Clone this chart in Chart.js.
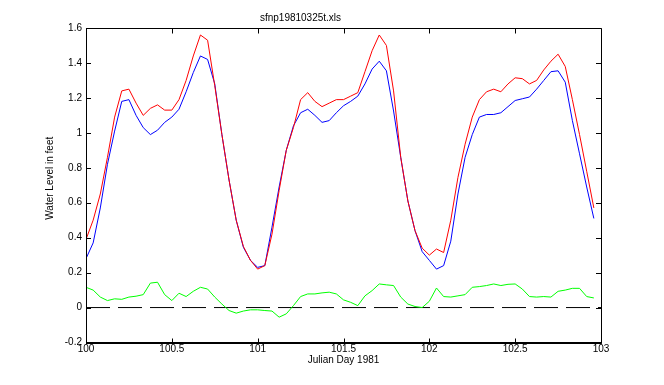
<!DOCTYPE html>
<html>
<head>
<meta charset="utf-8">
<script src="https://cdn.jsdelivr.net/npm/chart.js@4"></script>
<style>
  body { margin: 0; background: #fff; }
  canvas { display: block; }
</style>
</head>
<body>
<canvas id="myLevels" width="664" height="385"></canvas>
<script>
// hourly samples starting at Julian day 100
const startDay = 100;
const stepDay = 1 / 24;

const measured = [0.39, 0.50, 0.65, 0.86, 1.09, 1.24, 1.25, 1.17, 1.10, 1.14, 1.16, 1.13,
  1.13, 1.19, 1.30, 1.44, 1.56, 1.53, 1.27, 0.99, 0.73, 0.50, 0.35, 0.27,
  0.22, 0.24, 0.42, 0.67, 0.90, 1.03, 1.19, 1.23, 1.18, 1.15, 1.17, 1.19,
  1.19, 1.21, 1.23, 1.35, 1.47, 1.56, 1.50, 1.24, 0.86, 0.61, 0.44, 0.34,
  0.30, 0.335, 0.315, 0.50, 0.745, 0.935, 1.09, 1.19, 1.235, 1.25, 1.235, 1.28,
  1.315, 1.31, 1.28, 1.30, 1.36, 1.41, 1.45, 1.38, 1.19, 0.99, 0.78, 0.57];

const predicted = [0.28, 0.37, 0.57, 0.82, 1.01, 1.18, 1.19, 1.10, 1.03, 0.99, 1.015, 1.06,
  1.09, 1.135, 1.235, 1.345, 1.44, 1.42, 1.28, 0.99, 0.73, 0.50, 0.345, 0.27,
  0.23, 0.24, 0.46, 0.69, 0.90, 1.04, 1.115, 1.135, 1.10, 1.06, 1.07, 1.115,
  1.155, 1.18, 1.21, 1.28, 1.365, 1.41, 1.355, 1.125, 0.86, 0.61, 0.44, 0.32,
  0.27, 0.22, 0.24, 0.38, 0.65, 0.86, 0.99, 1.09, 1.105, 1.105, 1.115, 1.15,
  1.185, 1.195, 1.205, 1.25, 1.30, 1.35, 1.355, 1.29, 1.07, 0.88, 0.69, 0.51];

const residual = [0.116, 0.10, 0.06, 0.04, 0.05, 0.047, 0.06, 0.065, 0.074, 0.14, 0.145, 0.074,
  0.04, 0.082, 0.063, 0.093, 0.116, 0.106, 0.06, 0.02, -0.017, -0.032, -0.02, -0.013,
  -0.013, -0.017, -0.02, -0.055, -0.036, 0.011, 0.063, 0.078, 0.078, 0.084, 0.088, 0.078,
  0.044, 0.03, 0.011, 0.067, 0.097, 0.135, 0.13, 0.126, 0.06, 0.02, 0.006, 0.0,
  0.036, 0.112, 0.063, 0.06, 0.067, 0.074, 0.116, 0.12, 0.126, 0.135, 0.126, 0.133,
  0.135, 0.106, 0.063, 0.06, 0.063, 0.06, 0.093, 0.10, 0.11, 0.11, 0.063, 0.055];

const zeroLine = [[100, 0], [103, 0]];

const xTicks = [100, 100.5, 101, 101.5, 102, 102.5, 103];
const yTicks = [-0.2, 0, 0.2, 0.4, 0.6, 0.8, 1, 1.2, 1.4, 1.6];

const yTitle = 'Water Level in feet';

const toPoints = arr => arr.map((v, i) => ({ x: startDay + i * stepDay, y: v }));

const font = { family: 'Arial, "Liberation Sans", sans-serif', size: 10 };

// MATLAB style box with inward ticks on all four sides, plus the y label
const boxTicks = {
  id: 'boxTicks',
  afterDatasetsDraw(chart) {
    const ctx = chart.ctx;
    const a = chart.chartArea;
    const sx = chart.scales.x;
    const sy = chart.scales.y;
    const top = Math.round(a.top) + 0.5;
    const bottom = Math.round(a.bottom) + 0.5;
    ctx.save();
    ctx.strokeStyle = '#000';
    ctx.lineWidth = 1;
    ctx.setLineDash([]);
    ctx.beginPath();
    ctx.rect(Math.round(a.left) + 0.5, top, Math.round(a.right - a.left), bottom - top);
    xTicks.forEach(v => {
      const px = Math.round(sx.getPixelForValue(v)) + 0.5;
      ctx.moveTo(px, bottom); ctx.lineTo(px, bottom - 5);
      ctx.moveTo(px, top); ctx.lineTo(px, top + 5);
    });
    yTicks.forEach(v => {
      const py = Math.round(sy.getPixelForValue(v)) + 0.5;
      ctx.moveTo(a.left, py); ctx.lineTo(a.left + 5, py);
      ctx.moveTo(a.right, py); ctx.lineTo(a.right - 5, py);
    });
    ctx.stroke();

    ctx.translate(50, (a.top + a.bottom) / 2 - 7);
    ctx.rotate(-Math.PI / 2);
    ctx.fillStyle = '#000';
    ctx.font = '10px ' + font.family;
    ctx.textAlign = 'center';
    ctx.textBaseline = 'middle';
    ctx.fillText(yTitle, 0, 0);
    ctx.restore();
  }
};

new Chart(document.getElementById('myLevels'), {
  type: 'line',
  data: {
    datasets: [
      { label: 'measured', data: toPoints(measured), borderColor: '#ff0000', borderWidth: 1 },
      { label: 'predicted', data: toPoints(predicted), borderColor: '#0000ff', borderWidth: 1 },
      { label: 'residual', data: toPoints(residual), borderColor: '#00ff00', borderWidth: 1 },
      {
        label: 'zero',
        data: zeroLine.map(p => ({ x: p[0], y: p[1] })),
        borderColor: '#000', borderWidth: 1, borderDash: [24, 8]
      }
    ]
  },
  options: {
    responsive: false,
    animation: false,
    elements: { point: { radius: 0 }, line: { tension: 0 } },
    layout: { padding: { left: 0, right: 63, top: 0, bottom: 0 } },
    plugins: {
      legend: { display: false },
      tooltip: { enabled: false },
      title: {
        display: true,
        text: 'sfnp19810325t.xls',
        color: '#000',
        font: { ...font, weight: 'normal' },
        padding: { top: 12.5, bottom: 3.5 }
      }
    },
    scales: {
      x: {
        type: 'linear',
        min: 100,
        max: 103,
        afterFit: s => { s.height = 42.5; },
        ticks: {
          stepSize: 0.5,
          color: '#000',
          font: font,
          padding: 1,
          maxRotation: 0,
          callback: v => String(v)
        },
        grid: { display: false, drawTicks: false, tickLength: 0 },
        border: { display: true, color: '#000' },
        title: {
          display: true,
          text: 'Julian Day 1981',
          color: '#000',
          font: font,
          padding: { top: 0, bottom: 19 }
        }
      },
      y: {
        min: -0.2,
        max: 1.6,
        afterFit: s => { s.width = 86; },
        ticks: {
          stepSize: 0.2,
          color: '#000',
          font: font,
          padding: 4,
          callback: v => String(+v.toFixed(1))
        },
        grid: { display: false, drawTicks: false, tickLength: 0 },
        border: { display: true, color: '#000' }
      }
    }
  },
  plugins: [boxTicks]
});
</script>
</body>
</html>
